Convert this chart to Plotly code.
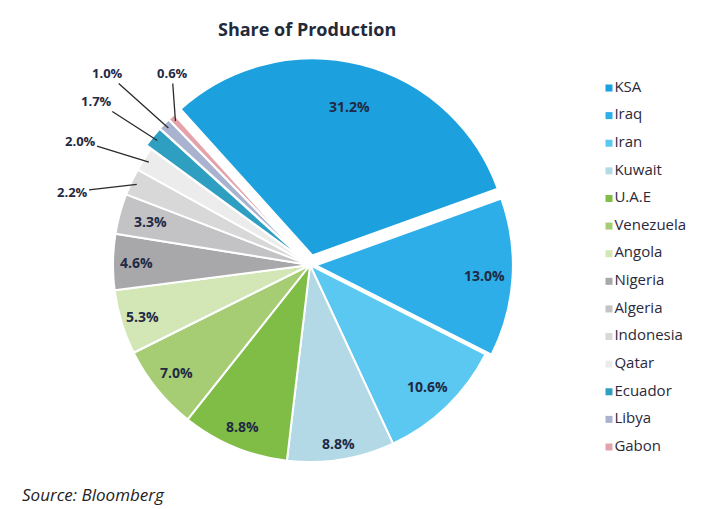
import math
import plotly.graph_objects as go

# ---------------- data ----------------
countries = ["KSA", "Iraq", "Iran", "Kuwait", "U.A.E", "Venezuela", "Angola",
             "Nigeria", "Algeria", "Indonesia", "Qatar", "Ecuador", "Libya", "Gabon"]
shares = [31.2, 13.0, 10.6, 8.8, 8.8, 7.0, 5.3, 4.6, 3.3, 2.2, 2.0, 1.7, 1.0, 0.6]
share_labels = ["31.2%", "13.0%", "10.6%", "8.8%", "8.8%", "7.0%", "5.3%",
                "4.6%", "3.3%", "2.2%", "2.0%", "1.7%", "1.0%", "0.6%"]

# ---------------- style ----------------
colors = ["#1da1de", "#2daee8", "#5ac8f0", "#b4d9e6", "#80bd47", "#a6cd74",
          "#d3e6b5", "#a8a8ab", "#c3c3c5", "#d8d8d8", "#ececec", "#2e9fc0",
          "#a9b3cf", "#e4a3ab"]
pulls = [0.05, 0.03, 0, 0, 0, 0, 0, 0, 0, 0, 0, 0.03, 0.03, 0.03]
label_radius = [0.78, 0.86, 0.86, 0.92, 0.89, 0.87, 0.89, 0.88, 0.84]
W, H = 713, 509
ROT = -42
CX, CY, R = 310, 265, 197
TXT = "#1f2a44"
FONT = "Open Sans"

maxpull = max(pulls)
half = R * (1 + maxpull)
dom_x = [(CX - half) / W, (CX + half) / W]
dom_y = [1 - (CY + half) / H, 1 - (CY - half) / H]

fig = go.Figure()
fig.add_trace(go.Pie(
    labels=countries, values=shares, sort=False, direction="clockwise",
    rotation=ROT, pull=pulls, textinfo="none", showlegend=False,
    marker=dict(colors=colors, line=dict(color="white", width=2)),
    domain=dict(x=dom_x, y=dom_y), hoverinfo="label+percent",
))

total = sum(shares)
annotations = []
cum = 0.0
small_label_pos = {9: (72, 192), 10: (80, 141), 11: (96, 101), 12: (107, 73), 13: (172, 73)}
for i, v in enumerate(shares):
    th = math.radians(ROT + 360 * (cum + v / 2) / total)
    cum += v
    s, c = math.sin(th), -math.cos(th)
    if i in small_label_pos:
        rr = R * (0.97 + pulls[i])
        tx, ty = CX + rr * s, CY + rr * c
        lx, ly = small_label_pos[i]
        annotations.append(dict(
            x=tx / W, y=1 - ty / H, xref="paper", yref="paper",
            ax=lx - tx, ay=ly - ty, showarrow=True, arrowhead=0,
            arrowwidth=1.3, arrowcolor="#2a2a2a", standoff=0,
            text="<b>" + share_labels[i] + "</b>",
            font=dict(family=FONT, size=13, color=TXT),
        ))
    else:
        rr = R * (label_radius[i] + pulls[i])
        px, py = CX + rr * s, CY + rr * c
        annotations.append(dict(
            x=px / W, y=1 - py / H, xref="paper", yref="paper", showarrow=False,
            xanchor="center", yanchor="middle",
            text="<b>" + share_labels[i] + "</b>",
            font=dict(family=FONT, size=14, color=TXT),
        ))

annotations.append(dict(
    x=307 / W, y=1 - 29 / H, xref="paper", yref="paper", showarrow=False,
    xanchor="center", yanchor="middle",
    text="<b>Share of Production</b>", font=dict(family=FONT, size=18, color="#222a3a"),
))
annotations.append(dict(
    x=20 / W, y=1 - 508 / H, xref="paper", yref="paper", showarrow=False,
    xanchor="left", yanchor="bottom", text="<i>Source: Bloomberg</i>",
    font=dict(family=FONT, size=17, color="#222222"),
))

# legend drawn as a marker column on its own axes
idx = list(range(len(countries)))
fig.add_trace(go.Scatter(
    x=[0] * len(countries), y=idx, mode="markers+text",
    marker=dict(symbol="square", size=7, color=colors),
    text=countries, textposition="middle right",
    textfont=dict(family=FONT, size=15, color="#2a2a3a"),
    showlegend=False, hoverinfo="skip", cliponaxis=False,
))
L0, L1, STEP = 88, 447, (447 - 88) / 13
fig.update_layout(
    width=W, height=H, margin=dict(l=0, r=0, t=0, b=0, pad=0),
    paper_bgcolor="white", plot_bgcolor="rgba(0,0,0,0)",
    xaxis=dict(domain=[609 / W, 1.0], range=[0, 1], visible=False, fixedrange=True),
    yaxis=dict(domain=[1 - (L1 + STEP / 2) / H, 1 - (L0 - STEP / 2) / H],
               range=[13.5, -0.5], visible=False, fixedrange=True),
    annotations=annotations, showlegend=False,
)
fig.write_html("out.html", config={"displayModeBar": False},
               post_script="document.body.style.margin='0';document.body.style.overflow='hidden';")
